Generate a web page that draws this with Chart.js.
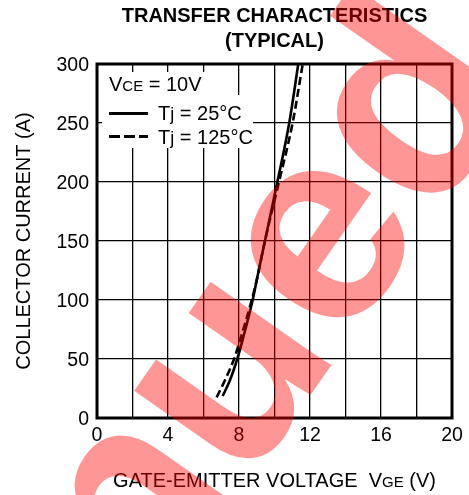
<!DOCTYPE html>
<html>
<head>
<meta charset="utf-8">
<script src="https://cdn.jsdelivr.net/npm/chart.js@4"></script>
<style>
  html, body { margin: 0; padding: 0; background: #fff; }
  canvas { display: block; }
</style>
</head>
<body>
<canvas id="c" width="469" height="495"></canvas>
<script>
// ---- data ----
const voltage25  = [7.08, 7.49, 7.9, 8.2, 8.77, 9.0, 9.46, 10.16, 10.83, 11.34];
const current25  = [18.6, 32, 50, 66, 100, 117, 150, 200, 250, 300];
const voltage125 = [6.74, 7.21, 7.72, 8.06, 8.72, 9.0, 9.46, 10.25, 11.02, 11.59];
const current125 = [17.5, 32, 50, 66, 100, 117, 150, 200, 250, 300];
const xLabelEvery = 4;
const titleLines = ['TRANSFER CHARACTERISTICS', '(TYPICAL)'];
const seriesLabels = ['Tj = 25°C', 'Tj = 125°C'];

const FONT = '"Liberation Sans", Arial, Helvetica, sans-serif';

function pts(xs, ys) { return xs.map((v, i) => ({ x: v, y: ys[i] })); }

function drawParts(ctx, parts, x, y) {
  for (const p of parts) {
    ctx.font = p.f;
    ctx.fillText(p.t, x, y);
    x += ctx.measureText(p.t).width;
  }
}
function partsWidth(ctx, parts) {
  let w = 0;
  for (const p of parts) { ctx.font = p.f; w += ctx.measureText(p.t).width; }
  return w;
}

const deco = {
  id: 'deco',
  beforeDatasetsDraw(chart) {
    const { ctx, chartArea: a } = chart;
    ctx.save();
    // legend background boxes
    ctx.fillStyle = '#fff';
    ctx.fillRect(a.left + 5, a.top + 8, 114, 76);
    ctx.fillRect(a.left + 5, a.top + 31, 151, 53);
    // frame
    ctx.strokeStyle = '#000';
    ctx.lineWidth = 3;
    ctx.strokeRect(a.left, a.top, a.right - a.left, a.bottom - a.top);
    // legend text
    ctx.fillStyle = '#000';
    ctx.textBaseline = 'alphabetic';
    ctx.textAlign = 'left';
    drawParts(ctx, [
      { t: 'V', f: '20px ' + FONT },
      { t: 'CE', f: '15px ' + FONT },
      { t: ' = 10V', f: '20px ' + FONT }
    ], a.left + 12, a.top + 27);
    // legend samples
    ctx.lineWidth = 2.8;
    ctx.beginPath();
    ctx.moveTo(a.left + 12, a.top + 49.5);
    ctx.lineTo(a.left + 51, a.top + 49.5);
    ctx.stroke();
    ctx.setLineDash([11, 4]);
    ctx.beginPath();
    ctx.moveTo(a.left + 12, a.top + 72.5);
    ctx.lineTo(a.left + 51, a.top + 72.5);
    ctx.stroke();
    ctx.setLineDash([]);
    const lab = s => [{ t: 'T', f: '20px ' + FONT }, { t: 'j', f: '18px ' + FONT }, { t: s.slice(2), f: '20px ' + FONT }];
    drawParts(ctx, lab(seriesLabels[0]), a.left + 61, a.top + 55.5);
    drawParts(ctx, lab(seriesLabels[1]), a.left + 61, a.top + 79.5);
    ctx.restore();
  },
  afterDraw(chart) {
    const { ctx, chartArea: a } = chart;
    const cx = (a.left + a.right) / 2;
    const cy = (a.top + a.bottom) / 2;
    ctx.save();
    ctx.fillStyle = '#000';
    ctx.textAlign = 'center';
    ctx.textBaseline = 'alphabetic';
    ctx.font = 'bold 20px ' + FONT;
    ctx.fillText(titleLines[0], cx, 21.7);
    ctx.fillText(titleLines[1], cx, 46.7);
    // x title
    ctx.textAlign = 'left';
    const xt = [
      { t: 'GATE-EMITTER VOLTAGE  V', f: '20px ' + FONT },
      { t: 'GE', f: '15px ' + FONT },
      { t: ' (V)', f: '20px ' + FONT }
    ];
    const w = partsWidth(ctx, xt);
    drawParts(ctx, xt, cx - w / 2, 487.3);
    // y title
    ctx.translate(30, cy);
    ctx.rotate(-Math.PI / 2);
    ctx.textAlign = 'center';
    ctx.font = '20px ' + FONT;
    ctx.fillText('COLLECTOR CURRENT (A)', 0, 0);
    ctx.restore();

    // watermark
    ctx.save();
    ctx.font = 'bold 278px ' + FONT;
    const pre = ctx.measureText('Discontinu').width;
    ctx.translate(342, 350);
    ctx.rotate(-55 * Math.PI / 180);
    ctx.fillStyle = 'rgba(255,0,0,0.41)';
    ctx.textBaseline = 'alphabetic';
    ctx.textAlign = 'left';
    ctx.fillText('Discontinued', -pre, 0);
    ctx.restore();
  }
};

const tickFont = { family: FONT, size: 19.5 };

new Chart(document.getElementById('c'), {
  type: 'scatter',
  data: {
    datasets: [
      {
        label: seriesLabels[0],
        data: pts(voltage25, current25),
        showLine: true,
        borderColor: '#000',
        borderWidth: 2.6,
        pointRadius: 0,
        cubicInterpolationMode: 'monotone',
        fill: false
      },
      {
        label: seriesLabels[1],
        data: pts(voltage125, current125),
        showLine: true,
        borderColor: '#000',
        borderWidth: 2.6,
        borderDash: [8, 4],
        pointRadius: 0,
        cubicInterpolationMode: 'monotone',
        fill: false
      }
    ]
  },
  options: {
    responsive: false,
    animation: false,
    devicePixelRatio: 1,
    layout: { padding: { top: 64, right: 17, left: 0, bottom: 0 } },
    plugins: {
      legend: { display: false },
      title: { display: false },
      tooltip: { enabled: false }
    },
    scales: {
      x: {
        type: 'linear',
        min: 0, max: 20,
        afterFit(s) { s.height = 77; },
        ticks: {
          stepSize: 2, autoSkip: false, maxRotation: 0, padding: 6,
          color: '#000', font: tickFont,
          callback: v => (v % xLabelEvery === 0 ? String(v) : '')
        },
        grid: { color: '#000', lineWidth: 1.3, drawTicks: false },
        border: { display: false }
      },
      y: {
        min: 0, max: 300,
        afterFit(s) { s.width = 97; },
        ticks: { stepSize: 50, padding: 8, labelOffset: 2, color: '#000', font: tickFont },
        grid: { color: '#000', lineWidth: 1.3, drawTicks: false },
        border: { display: false }
      }
    }
  },
  plugins: [deco]
});
</script>
</body>
</html>
